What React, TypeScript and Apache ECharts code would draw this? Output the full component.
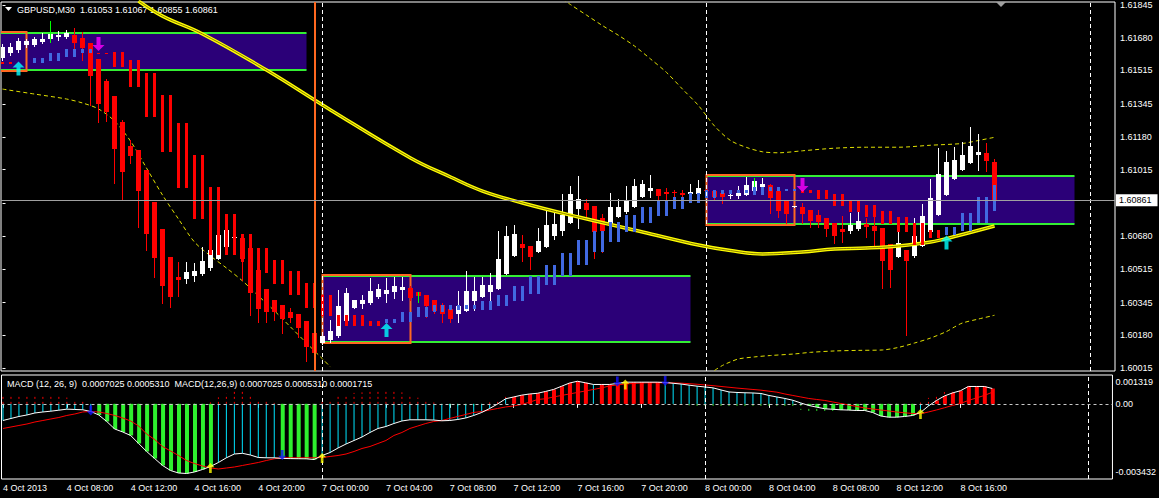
import React, { useEffect, useRef } from "react";
import * as echarts from "echarts";

const FONT = '"Liberation Sans", Arial, sans-serif';

// ---------- tick labels / categories ----------
const xTickLabels = [
  "4 Oct 2013", "4 Oct 08:00", "4 Oct 12:00", "4 Oct 16:00", "4 Oct 20:00",
  "7 Oct 00:00", "7 Oct 04:00", "7 Oct 08:00", "7 Oct 12:00", "7 Oct 16:00",
  "7 Oct 20:00", "8 Oct 00:00", "8 Oct 04:00", "8 Oct 08:00", "8 Oct 12:00", "8 Oct 16:00",
];
const barsPerLabel = 8;
const dayBreakBars = [40, 88, 136];
const sessionMarkBar = 39;
const priceTicks = [1.61845, 1.6168, 1.61515, 1.61345, 1.6118, 1.61015, 1.60845, 1.6068, 1.60515, 1.60345, 1.6018, 1.60015];
const macdTickValues = [0.001319, 0, -0.003432];
const macdTickLabels = ["0.001319", "0.00", "-0.003432"];
const symbolName = "GBPUSD,M30";

// ---------- candles (M30) ----------
const candleOpen = [
  1.61578, 1.61603, 1.61618, 1.61643, 1.61643, 1.61658, 1.61673, 1.61684, 1.61684, 1.61694,
  1.61679, 1.61653, 1.61573, 1.61462, 1.61386, 1.61255, 1.61134, 1.61114, 1.61013, 1.60852,
  1.60716, 1.60575, 1.60474, 1.60464, 1.60479, 1.60489, 1.60519, 1.60565, 1.60625, 1.6067,
  1.6067, 1.6062, 1.60509, 1.60414, 1.60358, 1.60333, 1.60298, 1.60287, 1.60252, 1.60192,
  1.60141, 1.60156, 1.60177, 1.60252, 1.60318, 1.60338, 1.60343, 1.60373, 1.60388, 1.60398,
  1.60408, 1.60419, 1.60398, 1.60383, 1.60358, 1.60333, 1.60313, 1.60287, 1.60303, 1.60353,
  1.60373, 1.60398, 1.60414, 1.60489, 1.6058, 1.6064, 1.6063, 1.606, 1.60625, 1.60681,
  1.60706, 1.60746, 1.60817, 1.60847, 1.60832, 1.60771, 1.60736, 1.60776, 1.60801, 1.60827,
  1.60877, 1.60907, 1.60917, 1.60902, 1.60902, 1.60897, 1.60892, 1.60892, 1.60912, 1.60907,
  1.60897, 1.60882, 1.60882, 1.60887, 1.60907, 1.60928, 1.60938, 1.60907, 1.60862, 1.60827,
  1.60827, 1.60812, 1.60786, 1.60771, 1.60746, 1.60716, 1.60706, 1.60716, 1.60741, 1.60731,
  1.60721, 1.6064, 1.60575, 1.6061, 1.6058, 1.6063, 1.60701, 1.60786, 1.60887, 1.60968,
  1.61013, 1.61048, 1.61089, 1.61099, 1.61053,
];
const candleHigh = [
  1.61648, 1.61653, 1.61679, 1.61673, 1.61684, 1.61704, 1.61764, 1.61714, 1.61719, 1.61729,
  1.61709, 1.61653, 1.61573, 1.61472, 1.61386, 1.61265, 1.61164, 1.61114, 1.61013, 1.60852,
  1.60716, 1.60575, 1.6055, 1.6055, 1.60545, 1.60625, 1.60681, 1.60751, 1.60761, 1.60706,
  1.60691, 1.6062, 1.60509, 1.60414, 1.60358, 1.60333, 1.60318, 1.60287, 1.60252, 1.60192,
  1.60182, 1.60257, 1.60408, 1.60419, 1.60358, 1.60383, 1.60469, 1.60439, 1.60469, 1.60474,
  1.60474, 1.60429, 1.60398, 1.60383, 1.60358, 1.60343, 1.60318, 1.60403, 1.60504, 1.60474,
  1.60474, 1.60494, 1.60706, 1.60731, 1.60736, 1.60686, 1.6063, 1.60721, 1.60822, 1.60801,
  1.60892, 1.60933, 1.60983, 1.60867, 1.60832, 1.60791, 1.60897, 1.60867, 1.60933, 1.60968,
  1.60963, 1.60988, 1.60917, 1.60923, 1.60912, 1.60912, 1.60943, 1.60963, 1.60917, 1.60907,
  1.60912, 1.60912, 1.60933, 1.60978, 1.60973, 1.60973, 1.60943, 1.60907, 1.60862, 1.60832,
  1.60847, 1.60812, 1.60812, 1.60771, 1.60746, 1.60781, 1.60796, 1.60842, 1.60771, 1.60776,
  1.60721, 1.6064, 1.60731, 1.6061, 1.60771, 1.60842, 1.60968, 1.61124, 1.61109, 1.61129,
  1.61154, 1.6123, 1.61195, 1.61149, 1.61067,
];
const candleLow = [
  1.61568, 1.61593, 1.61608, 1.61633, 1.61638, 1.61653, 1.61658, 1.61668, 1.61679, 1.61603,
  1.61568, 1.61341, 1.61255, 1.6126, 1.60948, 1.60867, 1.61048, 1.60726, 1.6061, 1.60474,
  1.60343, 1.60323, 1.60378, 1.60444, 1.60454, 1.60484, 1.60509, 1.60565, 1.60625, 1.6063,
  1.60459, 1.60282, 1.60247, 1.60247, 1.60257, 1.60192, 1.60247, 1.60172, 1.60051, 1.60081,
  1.60136, 1.60146, 1.60172, 1.60247, 1.60318, 1.60318, 1.60338, 1.60368, 1.60348, 1.60368,
  1.60358, 1.60358, 1.60348, 1.60272, 1.60292, 1.60247, 1.60247, 1.60247, 1.60303, 1.60308,
  1.60373, 1.60348, 1.60414, 1.60489, 1.6058, 1.60555, 1.60514, 1.606, 1.60625, 1.60665,
  1.60686, 1.60746, 1.60721, 1.60771, 1.6057, 1.606, 1.60736, 1.60776, 1.60796, 1.60827,
  1.60877, 1.60877, 1.60867, 1.60852, 1.60877, 1.60877, 1.60892, 1.60892, 1.60897, 1.60862,
  1.60847, 1.60872, 1.60872, 1.60887, 1.60907, 1.60902, 1.60796, 1.60776, 1.60746, 1.60827,
  1.60746, 1.60726, 1.60726, 1.60681, 1.60645, 1.6065, 1.60696, 1.60711, 1.60676, 1.6063,
  1.60419, 1.60424, 1.60575, 1.60182, 1.60575, 1.6063, 1.60701, 1.60786, 1.60887, 1.60968,
  1.61013, 1.61048, 1.61013, 1.61008, 1.60855,
];
const candleClose = [
  1.61633, 1.61633, 1.61663, 1.61663, 1.61673, 1.61673, 1.61699, 1.61694, 1.61704, 1.61653,
  1.61628, 1.61487, 1.61346, 1.61306, 1.61119, 1.61003, 1.61084, 1.60907, 1.60691, 1.6057,
  1.60429, 1.60373, 1.60459, 1.60499, 1.60504, 1.60555, 1.6061, 1.60686, 1.60711, 1.60676,
  1.60565, 1.60393, 1.60313, 1.60298, 1.60298, 1.60262, 1.60267, 1.60217, 1.60121, 1.60091,
  1.60177, 1.60202, 1.60328, 1.60393, 1.60358, 1.60358, 1.60403, 1.60414, 1.60408, 1.60429,
  1.60424, 1.60368, 1.60378, 1.60328, 1.60303, 1.60287, 1.60262, 1.60328, 1.60403, 1.60403,
  1.60434, 1.60434, 1.60565, 1.60681, 1.60691, 1.6062, 1.60575, 1.60655, 1.60736, 1.60741,
  1.60786, 1.60892, 1.60867, 1.60812, 1.60701, 1.60706, 1.60827, 1.60827, 1.60862, 1.60933,
  1.60943, 1.60923, 1.60882, 1.60892, 1.60897, 1.60887, 1.60902, 1.60923, 1.60907, 1.60877,
  1.60877, 1.60887, 1.60897, 1.60938, 1.60958, 1.60943, 1.60872, 1.60807, 1.60791, 1.60832,
  1.60791, 1.60756, 1.60751, 1.60716, 1.60681, 1.60701, 1.60736, 1.60756, 1.60726, 1.60706,
  1.60555, 1.60509, 1.60645, 1.60555, 1.60681, 1.60781, 1.60872, 1.60993, 1.61054, 1.61064,
  1.61089, 1.61134, 1.61104, 1.61059, 1.60861,
];
const greenWickBars = [6, 52, 94];

// ---------- higher-timeframe bars (one value pair per 2 bars) ----------
const htfTop = [
  1.61559, null, 1.61576, 1.61604, 1.61622, 1.61622, 1.61604, 1.61609, 1.61568, 1.61502,
  1.61391, 1.61249, 1.61089, 1.60926, 1.60791, 1.60691, 1.6062, 1.6056, 1.60504, 1.60445,
  1.60383, 1.60282, 1.60282, 1.60252, 1.60262, 1.60299, 1.60324, 1.60333, 1.60333, 1.60333,
  1.60355, 1.60383, 1.60429, 1.60479, 1.60534, 1.60596, 1.6066, 1.60706, 1.60753, 1.60786,
  1.60828, 1.60857, 1.60879, 1.60896, 1.60912, 1.60912, 1.60912, 1.60929, 1.60929, 1.60917,
  1.60912, 1.60912, 1.60892, 1.60862, 1.60837, 1.60808, 1.60775, 1.60746, 1.60711, 1.60727,
  1.60798, 1.60876, 1.60938,
];
const htfBottom = [
  1.61546, null, 1.61551, 1.61563, 1.61584, 1.61601, 1.61596, 1.61534, 1.6143, 1.61282,
  1.61105, 1.60924, 1.60766, 1.60585, 1.60585, 1.6055, 1.60496, 1.6044, 1.60385, 1.60319,
  1.60277, 1.60228, 1.60228, 1.60228, 1.60241, 1.60249, 1.60274, 1.60298, 1.60308, 1.60311,
  1.60308, 1.60329, 1.60355, 1.60388, 1.60434, 1.60479, 1.60534, 1.606, 1.60652, 1.60702,
  1.60745, 1.60783, 1.60817, 1.60848, 1.60871, 1.60892, 1.60896, 1.60887, 1.60909, 1.60909,
  1.60896, 1.60867, 1.60832, 1.60803, 1.60778, 1.60741, 1.60702, 1.60635, 1.60669, 1.60686,
  1.60707, 1.60745, 1.60808,
];
const htfDir = "r-bbbbr" + "rrrrrrrrrrrrrrrrr" + "bbbbbbbbbbbbbbbbbbbbbbbbbb" + "rrrrrrrrr" + "bbbb";

// ---------- boxes ----------
const boxStartBar = [-1, 40, 88];
const boxMarkEndBar = [3, 51, 99];
const boxEndBar = [38, 86, 134];
const boxTop = [1.61702, 1.60479, 1.60983];
const boxBottom = [1.61517, 1.60148, 1.60741];

// ---------- moving average & bands ----------
const maBars = [17, 20, 25, 33, 41, 51, 56, 60, 65, 72, 80, 87, 91, 95, 100, 104, 108, 112, 116, 119, 124];
const maValues = [1.61865, 1.61789, 1.61699, 1.61517, 1.61316, 1.61074, 1.60978, 1.60907, 1.60847, 1.60776, 1.60701, 1.60635, 1.60607, 1.6059, 1.606, 1.60615, 1.6062, 1.6063, 1.6065, 1.60678, 1.60731];
const bandABars = [0, 4, 8, 10, 12, 14, 16, 18, 20, 22, 24, 26, 28, 30, 32, 34, 36, 38, 40, 41];
const bandAValues = [1.61421, 1.61396, 1.61371, 1.61351, 1.61321, 1.6126, 1.61159, 1.61023, 1.60887, 1.60766, 1.6065, 1.6058, 1.60519, 1.60454, 1.60378, 1.60303, 1.60222, 1.60141, 1.60061, 1.6002];
const bandBBars = [70, 71, 73, 75, 77, 79, 81, 83, 85, 87, 89, 91, 93, 95, 97, 100, 104, 108, 112, 116, 120, 122, 124];
const bandBValues = [1.61875, 1.61847, 1.61794, 1.61741, 1.61692, 1.61638, 1.61573, 1.61505, 1.61421, 1.61338, 1.61235, 1.61162, 1.61127, 1.61105, 1.611, 1.6111, 1.61123, 1.61128, 1.61128, 1.61138, 1.61147, 1.61162, 1.61178];
const bandCBars = [89, 90, 91, 92, 94, 96, 99, 101, 104, 107, 110, 112, 114, 116, 118, 119, 120, 122, 124];
const bandCValues = [1.60003, 1.60028, 1.60046, 1.60061, 1.60071, 1.60078, 1.60086, 1.60094, 1.60101, 1.60104, 1.60106, 1.60119, 1.60141, 1.60166, 1.60199, 1.60222, 1.60242, 1.60262, 1.60281];

// ---------- signal arrows (main pane) ----------
const upArrowBars = [2, 48, 118];
const upArrowPrices = [1.61525, 1.60207, 1.60648];
const downArrowBars = [12, 100];
const downArrowPrices = [1.61648, 1.60938];

// ---------- MACD ----------
const macdMain = [
  -0.000759, -0.000667, -0.000576, -0.000507, -0.000416, -0.00037, -0.000334, -0.000288, -0.000242, -0.000256,
  -0.00027, -0.000347, -0.000507, -0.000804, -0.001147, -0.001284, -0.001444, -0.00181, -0.002175, -0.002495,
  -0.002815, -0.003044, -0.003158, -0.003181, -0.003112, -0.002998, -0.002861, -0.002678, -0.002463, -0.00229,
  -0.002258, -0.002335, -0.00245, -0.002463, -0.002463, -0.00249, -0.0025, -0.002505, -0.00251, -0.002541,
  -0.002358, -0.002221, -0.002015, -0.001833, -0.001673, -0.001513, -0.001307, -0.001124, -0.001033, -0.000896,
  -0.000781, -0.000727, -0.000727, -0.000727, -0.00074, -0.000772, -0.000759, -0.000713, -0.000644, -0.00053,
  -0.000393, -0.00021, -0.000005, 0.000233, 0.000315, 0.000398, 0.000452, 0.000484, 0.000567, 0.000658,
  0.000804, 0.000951, 0.001033, 0.000964, 0.000887, 0.000887, 0.000887, 0.000932, 0.000992, 0.000992,
  0.000992, 0.000992, 0.000992, 0.000978, 0.000941, 0.000905, 0.000855, 0.000809, 0.000772, 0.000731,
  0.000635, 0.000544, 0.000521, 0.000507, 0.000498, 0.000475, 0.000384, 0.000315, 0.000247, 0.000165,
  0.000041, -0.000073, -0.000151, -0.000224, -0.000247, -0.00027, -0.000283, -0.000302, -0.000302, -0.000393,
  -0.000553, -0.000608, -0.000608, -0.000576, -0.00053, -0.000393, -0.000096, 0.000155, 0.000361, 0.000498,
  0.000599, 0.000795, 0.000795, 0.000795, 0.0007025,
];
const macdSignal = [
  -0.001124, -0.001056, -0.000987, -0.000919, -0.000827, -0.000759, -0.00069, -0.000622, -0.00053, -0.000462,
  -0.00037, -0.000347, -0.00037, -0.000439, -0.00053, -0.000644, -0.000781, -0.00101, -0.001376, -0.001627,
  -0.001947, -0.002152, -0.002358, -0.002587, -0.002724, -0.002838, -0.002929, -0.002975, -0.002929, -0.002884,
  -0.002815, -0.002747, -0.002678, -0.002587, -0.002509, -0.002463, -0.002463, -0.002463, -0.002463, -0.002463,
  -0.00245, -0.002404, -0.002358, -0.00229, -0.002175, -0.002038, -0.001947, -0.00181, -0.001673, -0.001444,
  -0.001307, -0.001124, -0.00101, -0.000896, -0.000804, -0.000759, -0.000667, -0.000576, -0.000484, -0.000393,
  -0.000347, -0.000279, -0.00021, -0.000142, -0.000096, -0.000027, 0.000078, 0.000201, 0.000233, 0.000315,
  0.000384, 0.000452, 0.000521, 0.00059, 0.000658, 0.000727, 0.000818, 0.000864, 0.000909, 0.000932,
  0.000955, 0.000964, 0.000964, 0.00096, 0.000955, 0.000946, 0.000923, 0.000896, 0.000864, 0.000832,
  0.000795, 0.000759, 0.000722, 0.00069, 0.000658, 0.000626, 0.00058, 0.000535, 0.000452, 0.000384,
  0.000315, 0.000247, 0.000201, 0.000155, 0.000087, 0.000018, -0.00005, -0.000119, -0.000187, -0.000233,
  -0.000279, -0.000324, -0.00037, -0.000407, -0.000439, -0.000452, -0.00037, -0.000279, -0.000178, -0.000073,
  0.000018, 0.000155, 0.00027, 0.000384, 0.000531,
];
// c = thin cyan, g = thick green, r = thick red
const histColors =
  "cccccccccccc" + "ggggggggggggggg" + "cccccccc" + "ggggg" + "cccccccccccccccccccccccc" +
  "rrrrrrrrrr" + "c" + "rrrrrrrr" + "cccccccccccccccccc" + "gggggggggggggg" + "cc" + "rrrrrrrr";
const macdDownBars = [11, 35, 77, 83];
const macdDownValues = [-0.000302, -0.002335, 0.001024, 0.001047];
const macdUpBars = [26, 40, 78, 115];
const macdUpValues = [-0.002929, -0.002472, 0.000887, -0.000462];

// ---------- layout ----------
const X_MIN = -0.1875;
const X_MAX = 139.0625;
const ARROW_UP = "path://M6,0 L12,6 L8,6 L8,14 L4,14 L4,6 L0,6 Z";
const ARROW_DOWN = "path://M4,0 L8,0 L8,8 L12,8 L6,14 L0,8 L4,8 Z";
const GAP = " \u00a0";

function buildOption(): any {
  const last = candleOpen.length - 1;
  const lastClose = candleClose[last];
  const header = `${symbolName}${GAP}${candleOpen[last].toFixed(5)} ${candleHigh[last].toFixed(5)} ${candleLow[last].toFixed(5)} ${lastClose.toFixed(5)}`;
  const m = macdMain[last];
  const s = macdSignal[last];
  const macdHeader = `MACD (12, 26, 9)${GAP}${m.toFixed(7)} ${s.toFixed(7)}${GAP}MACD(12,26,9) ${m.toFixed(7)} ${s.toFixed(7)} ${(m - s).toFixed(7)}`;
  const xTickPos = xTickLabels.map((_, k) => k * barsPerLabel);
  // the price tag of the last close hides the axis label it sits on
  const priceLabelValues = priceTicks.filter((v) => Math.abs(v - lastClose) > 0.0003);

  const pair = (bars: number[], vals: number[]) => bars.map((b, k) => [b, vals[k]]);

  const boxSeries = {
    type: "custom",
    xAxisIndex: 0,
    yAxisIndex: 0,
    z: 1,
    clip: true,
    silent: true,
    data: boxStartBar.map((b, k) => [b, boxTop[k], boxEndBar[k], boxBottom[k], boxMarkEndBar[k]]),
    renderItem: (_p: any, api: any) => {
      const a = api.coord([api.value(0), api.value(1)]);
      const b = api.coord([api.value(2), api.value(3)]);
      const mk = api.coord([api.value(4), api.value(1)]);
      const x0 = a[0], x1 = b[0], y0 = Math.round(a[1]), y1 = Math.round(b[1]);
      return {
        type: "group",
        children: [
          { type: "rect", shape: { x: x0, y: y0, width: x1 - x0, height: y1 - y0 }, style: { fill: "#2b0078" } },
          { type: "line", shape: { x1: x0, y1: y0, x2: x1, y2: y0 }, style: { stroke: "#33ee33", lineWidth: 2 } },
          { type: "line", shape: { x1: x0, y1: y1, x2: x1, y2: y1 }, style: { stroke: "#33ee33", lineWidth: 2 } },
          { type: "rect", shape: { x: x0, y: y0 - 1, width: mk[0] - x0, height: y1 - y0 + 2 }, style: { fill: "none", stroke: "#ff6820", lineWidth: 2 } },
        ],
      };
    },
  };

  const candleSeries = {
    type: "custom",
    xAxisIndex: 0,
    yAxisIndex: 0,
    z: 3,
    clip: true,
    silent: true,
    data: candleOpen.map((o, i) => [i, o, candleHigh[i], candleLow[i], candleClose[i]]),
    encode: { x: 0, y: [1, 2, 3, 4] },
    renderItem: (_p: any, api: any) => {
      const i = api.value(0), o = api.value(1), h = api.value(2), l = api.value(3), c = api.value(4);
      const pO = api.coord([i, o]), pC = api.coord([i, c]), pH = api.coord([i, h]), pL = api.coord([i, l]);
      const x = pO[0];
      const col = c > o ? "#ffffff" : c < o ? "#ff0000" : "#00ff00";
      const wick = greenWickBars.indexOf(i) >= 0 ? "#00ff00" : col;
      const top = Math.round(Math.min(pO[1], pC[1]));
      const bot = Math.round(Math.max(pO[1], pC[1]));
      return {
        type: "group",
        children: [
          { type: "rect", shape: { x: x - 2.5, y: top, width: 5, height: Math.max(1, bot - top) }, style: { fill: col } },
          { type: "line", shape: { x1: x, y1: Math.round(pH[1]), x2: x, y2: Math.round(pL[1]) + 1 }, style: { stroke: wick, lineWidth: 1 } },
        ],
      };
    },
  };

  const htfSeries = {
    type: "custom",
    xAxisIndex: 0,
    yAxisIndex: 0,
    z: 4,
    clip: true,
    silent: true,
    data: htfTop.map((t, k) => [k, t == null ? NaN : t, htfBottom[k] == null ? NaN : htfBottom[k]]),
    renderItem: (p: any, api: any) => {
      const k = api.value(0), t = api.value(1), b = api.value(2);
      if (isNaN(t) || isNaN(b)) return null;
      const col = htfDir[p.dataIndex] === "b" ? "#4169e1" : "#ff0000";
      const children: any[] = [];
      for (let j = 0; j < 2; j++) {
        const bar = 2 * k + j;
        if (bar > candleOpen.length - 1) continue;
        const pt = api.coord([bar, t]);
        const pb = api.coord([bar, b]);
        children.push({ type: "rect", shape: { x: pt[0] - 1.5, y: Math.round(pt[1]), width: 3, height: Math.max(1, Math.round(pb[1]) - Math.round(pt[1])) }, style: { fill: col } });
      }
      return { type: "group", children };
    },
  };

  const dashedBand = (data: number[][]) => ({
    type: "line",
    xAxisIndex: 0,
    yAxisIndex: 0,
    z: 2,
    silent: true,
    symbol: "none",
    smooth: 0.3,
    data,
    lineStyle: { color: "#e0e000", width: 1, type: [4, 3] },
  });

  const maData = pair(maBars, maValues);

  const histSeries = {
    type: "custom",
    xAxisIndex: 1,
    yAxisIndex: 1,
    z: 2,
    clip: true,
    silent: true,
    data: macdMain.map((v, i) => [i, v]),
    renderItem: (p: any, api: any) => {
      const i = api.value(0), v = api.value(1);
      const p0 = api.coord([i, 0]);
      const p1 = api.coord([i, v]);
      const kind = histColors[p.dataIndex];
      if (kind === "c") {
        return { type: "line", shape: { x1: p0[0], y1: p0[1], x2: p0[0], y2: p1[1] }, style: { stroke: "#00e5ff", lineWidth: 1 } };
      }
      return {
        type: "rect",
        shape: { x: p0[0] - 1.5, y: Math.min(p0[1], p1[1]), width: 4, height: Math.abs(p1[1] - p0[1]) },
        style: { fill: kind === "g" ? "#2ef02e" : "#ff0000" },
      };
    },
  };

  const osmaSeries = {
    type: "custom",
    xAxisIndex: 1,
    yAxisIndex: 1,
    z: 1,
    clip: true,
    silent: true,
    data: macdMain.map((v, i) => [i, v - macdSignal[i]]),
    renderItem: (_p: any, api: any) => {
      const i = api.value(0), v = api.value(1);
      const p0 = api.coord([i, 0]);
      const p1 = api.coord([i, v]);
      return {
        type: "line",
        shape: { x1: p0[0], y1: p0[1], x2: p0[0], y2: p1[1] },
        style: { stroke: v >= 0 ? "#ff0000" : "#2ef02e", lineWidth: 1, lineDash: [2, 3] },
      };
    },
  };

  return {
    backgroundColor: "#000",
    animation: false,
    textStyle: { fontFamily: FONT },
    grid: [
      { left: 1, top: 2, width: 1114, height: 369, show: true, borderColor: "#ffffff", borderWidth: 1, backgroundColor: "#000" },
      { left: 1, top: 375, width: 1114, height: 104, show: true, borderColor: "#ffffff", borderWidth: 1, backgroundColor: "#000" },
    ],
    xAxis: [
      { type: "value", gridIndex: 0, min: X_MIN, max: X_MAX, show: false },
      {
        type: "value",
        gridIndex: 1,
        min: X_MIN,
        max: X_MAX,
        axisLine: { show: false },
        splitLine: { show: false },
        axisTick: { show: true, customValues: xTickPos, length: 4, lineStyle: { color: "#ffffff" } },
        axisLabel: {
          show: true,
          customValues: xTickPos,
          formatter: (v: number) => xTickLabels[Math.round(v / barsPerLabel)] ?? "",
          align: "left",
          color: "#ffffff",
          fontSize: 9,
          fontFamily: FONT,
          margin: 4,
        },
      },
    ],
    yAxis: [
      {
        type: "value",
        gridIndex: 0,
        position: "right",
        min: 1.6,
        max: 1.6186,
        splitLine: { show: false },
        axisLine: { show: false },
        axisTick: { show: true, customValues: priceTicks, length: 3, lineStyle: { color: "#ffffff" } },
        axisLabel: {
          customValues: priceLabelValues,
          formatter: (v: number) => v.toFixed(5),
          color: "#ffffff",
          fontSize: 9,
          fontFamily: FONT,
          margin: 5,
        },
      },
      {
        type: "value",
        gridIndex: 1,
        position: "right",
        min: macdTickValues[2],
        max: macdTickValues[0],
        splitLine: { show: false },
        axisLine: { show: false },
        axisTick: { show: false },
        axisLabel: {
          customValues: macdTickValues,
          formatter: (v: number) => {
            const k = macdTickValues.findIndex((t) => Math.abs(t - v) < 1e-9);
            const txt = k >= 0 ? macdTickLabels[k] : "";
            return k === 0 ? `{t|${txt}}` : k === 2 ? `{b|${txt}}` : `{z|${txt}}`;
          },
          color: "#ffffff",
          fontSize: 9,
          fontFamily: FONT,
          margin: 3,
          rich: {
            t: { padding: [14, 0, 0, 0], color: "#ffffff", fontSize: 9, fontFamily: FONT },
            b: { padding: [0, 0, 14, 0], color: "#ffffff", fontSize: 9, fontFamily: FONT },
            z: { color: "#ffffff", fontSize: 9, fontFamily: FONT },
          },
        },
      },
    ],
    graphic: [
      { type: "polygon", shape: { points: [[5, 7], [12, 7], [8.5, 11]] }, style: { fill: "#ffffff" } },
      { type: "text", x: 17, y: 5, style: { text: header, fill: "#ffffff", fontSize: 9, fontFamily: FONT, verticalAlign: "top" } },
      { type: "text", x: 7, y: 379, style: { text: macdHeader, fill: "#ffffff", fontSize: 9, fontFamily: FONT, verticalAlign: "top" } },
      { type: "polygon", shape: { points: [[996, 2], [1006, 2], [1001, 7]] }, style: { fill: "#a0a0a0" } },
    ],
    series: [
      boxSeries,
      dashedBand(pair(bandABars, bandAValues)),
      dashedBand(pair(bandBBars, bandBValues)),
      dashedBand(pair(bandCBars, bandCValues)),
      candleSeries,
      {
        type: "line",
        xAxisIndex: 0,
        yAxisIndex: 0,
        z: 3,
        silent: true,
        symbol: "none",
        smooth: 0.4,
        data: maData,
        lineStyle: { color: "#ffff00", width: 3.5 },
        markLine: {
          silent: true,
          precision: 5,
          symbol: ["none", "none"],
          data: [
            { xAxis: sessionMarkBar, lineStyle: { color: "#ff6820", width: 2, type: "solid" }, label: { show: false } },
            ...dayBreakBars.map((d) => ({ xAxis: d, lineStyle: { color: "#ffffff", width: 1, type: [4, 3] }, label: { show: false } })),
            {
              yAxis: lastClose,
              lineStyle: { color: "#a0a0a0", width: 1, type: "solid" },
              label: {
                show: true,
                position: "end",
                distance: 1,
                formatter: lastClose.toFixed(5),
                backgroundColor: "#ffffff",
                color: "#000000",
                fontSize: 9,
                fontFamily: FONT,
                padding: [2, 6, 1, 3],
              },
            },
          ],
        },
      },
      {
        type: "line",
        xAxisIndex: 0,
        yAxisIndex: 0,
        z: 3,
        silent: true,
        symbol: "none",
        smooth: 0.4,
        data: maData,
        lineStyle: { color: "#8a7d00", width: 1 },
      },
      htfSeries,
      {
        type: "scatter",
        xAxisIndex: 0,
        yAxisIndex: 0,
        z: 5,
        silent: true,
        symbol: ARROW_UP,
        symbolSize: [12, 14],
        itemStyle: { color: "#00ffff" },
        data: pair(upArrowBars, upArrowPrices),
      },
      {
        type: "scatter",
        xAxisIndex: 0,
        yAxisIndex: 0,
        z: 5,
        silent: true,
        symbol: ARROW_DOWN,
        symbolSize: [12, 14],
        itemStyle: { color: "#ff00ff" },
        data: pair(downArrowBars, downArrowPrices),
      },
      osmaSeries,
      histSeries,
      {
        type: "line",
        xAxisIndex: 1,
        yAxisIndex: 1,
        z: 3,
        silent: true,
        symbol: "none",
        data: macdSignal.map((v, i) => [i, v]),
        lineStyle: { color: "#ff0000", width: 1 },
      },
      {
        type: "line",
        xAxisIndex: 1,
        yAxisIndex: 1,
        z: 3,
        silent: true,
        symbol: "none",
        data: macdMain.map((v, i) => [i, v]),
        lineStyle: { color: "#ffffff", width: 1 },
        markLine: {
          silent: true,
          precision: 7,
          symbol: ["none", "none"],
          data: [
            { yAxis: 0, lineStyle: { color: "#c8c8c8", width: 1, type: [3, 3] }, label: { show: false } },
            ...dayBreakBars.map((d) => ({ xAxis: d, lineStyle: { color: "#ffffff", width: 1, type: [4, 3] }, label: { show: false } })),
          ],
        },
      },
      {
        type: "scatter",
        xAxisIndex: 1,
        yAxisIndex: 1,
        z: 5,
        silent: true,
        symbol: ARROW_DOWN,
        symbolSize: [8, 10],
        itemStyle: { color: "#1010ff" },
        data: pair(macdDownBars, macdDownValues),
      },
      {
        type: "scatter",
        xAxisIndex: 1,
        yAxisIndex: 1,
        z: 5,
        silent: true,
        symbol: ARROW_UP,
        symbolSize: [8, 10],
        itemStyle: { color: "#ffff00" },
        data: pair(macdUpBars, macdUpValues),
      },
    ],
  };
}

export default function App() {
  const ref = useRef<HTMLDivElement>(null);
  useEffect(() => {
    if (!ref.current) return;
    const chart = echarts.init(ref.current, null, { renderer: "svg" });
    chart.setOption(buildOption());
    return () => chart.dispose();
  }, []);
  return (
    <div
      ref={ref}
      style={{ position: "fixed", left: 0, top: 0, width: 1159, height: 498, background: "#000" }}
    />
  );
}
